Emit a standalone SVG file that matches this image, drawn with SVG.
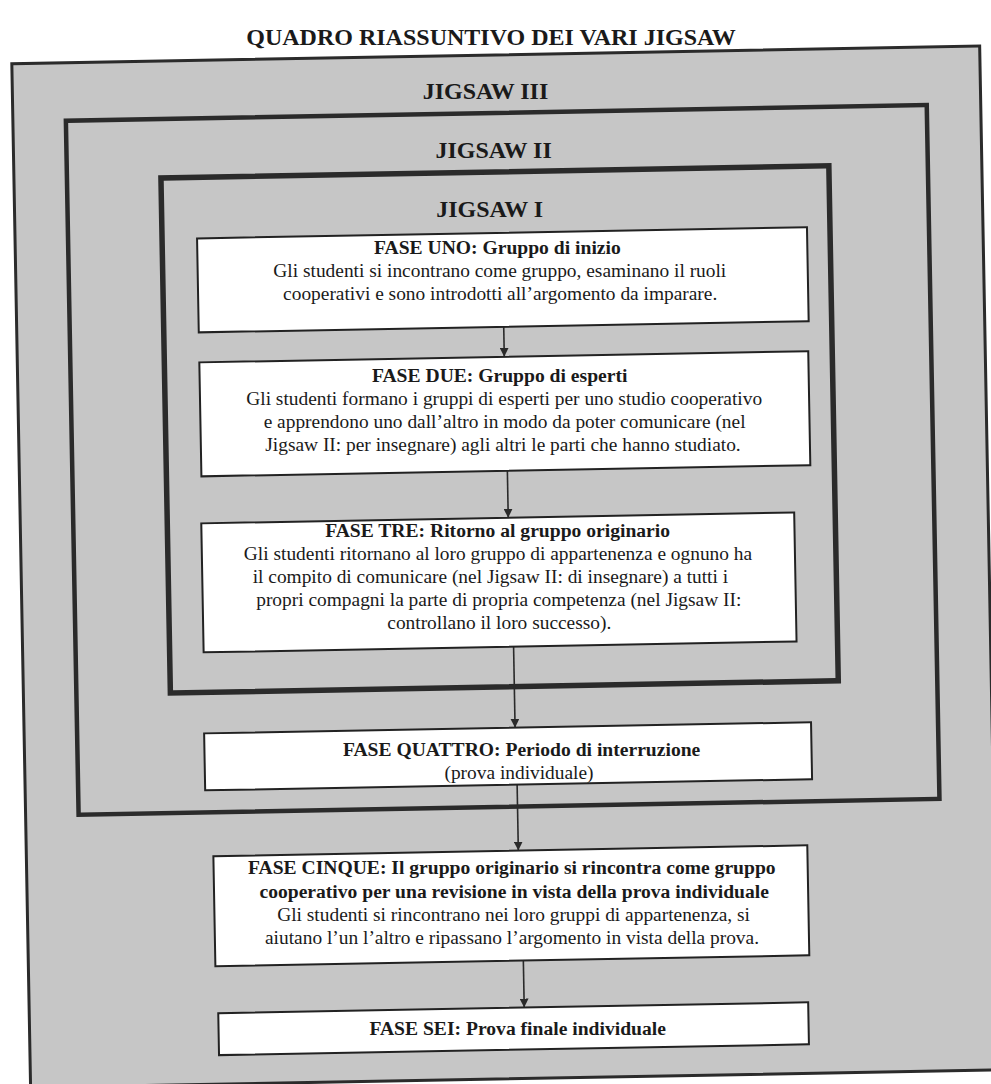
<svg xmlns="http://www.w3.org/2000/svg" width="991" height="1084" viewBox="0 0 991 1084">
<defs>
<marker id="ah" viewBox="0 0 10 10" refX="10" refY="5" markerWidth="9" markerHeight="9" markerUnits="userSpaceOnUse" orient="auto"><path d="M0,0 L10,5 L0,10 z" fill="#2a2a2a"/></marker>
<style>
.frame{fill:#c6c6c6;stroke:#2b2b2b}
.box{fill:#ffffff;stroke:#222222;stroke-width:2}
.t{font-family:"Liberation Serif","Times New Roman",serif;fill:#1a1a1a;text-anchor:middle}
.b{font-weight:bold;font-size:19.6px}
.n{font-size:19.4px}
.h{font-weight:bold;font-size:24px}
.conn{stroke:#2a2a2a;stroke-width:1.6;fill:none}
</style>
</defs>
<rect width="991" height="1084" fill="#ffffff"/>
<text class="t" x="491" y="45" style="font-weight:bold;font-size:24px">QUADRO RIASSUNTIVO DEI VARI JIGSAW</text>
<g id="jigsaw3">
<rect class="frame" x="21" y="55" width="968" height="1024" stroke-width="3" transform="rotate(-1.05 495 560)"/>
<text class="t h" x="485.5" y="99">JIGSAW III</text>
</g>
<g id="jigsaw2">
<rect class="frame" x="74" y="113" width="861" height="694" stroke-width="4.5" transform="rotate(-1.05 495 560)"/>
<text class="t h" x="493.6" y="158">JIGSAW II</text>
</g>
<g id="jigsaw1">
<rect class="frame" x="168" y="172" width="668" height="515" stroke-width="5.5" transform="rotate(-1.05 495 560)"/>
<text class="t h" x="489.7" y="217">JIGSAW I</text>
</g>
<g id="connectors" transform="rotate(-1.05 495 560)">
<line class="conn" x1="508" y1="327" x2="508" y2="357" marker-end="url(#ah)"/>
<line class="conn" x1="509" y1="471" x2="509" y2="518" marker-end="url(#ah)"/>
<line class="conn" x1="512" y1="647" x2="512" y2="728" marker-end="url(#ah)"/>
<line class="conn" x1="513" y1="785" x2="513" y2="851" marker-end="url(#ah)"/>
<line class="conn" x1="516" y1="961" x2="516" y2="1008" marker-end="url(#ah)"/>
</g>
<g id="fase1">
<rect class="box" x="203" y="233" width="610" height="94" transform="rotate(-1.05 495 560)"/>
<text class="t b" x="497.4" y="254">FASE UNO: Gruppo di inizio</text>
<text class="t n" x="499.8" y="277">Gli studenti si incontrano come gruppo, esaminano il ruoli</text>
<text class="t n" x="500.2" y="300">cooperativi e sono introdotti all’argomento da imparare.</text>
</g>
<g id="fase2">
<rect class="box" x="203" y="357" width="609" height="114" transform="rotate(-1.05 495 560)"/>
<text class="t b" x="499.7" y="382">FASE DUE: Gruppo di esperti</text>
<text class="t n" x="504.2" y="405">Gli studenti formano i gruppi di esperti per uno studio cooperativo</text>
<text class="t n" x="504.6" y="428">e apprendono uno dall’altro in modo da poter comunicare (nel</text>
<text class="t n" x="503" y="451">Jigsaw II: per insegnare) agli altri le parti che hanno studiato.</text>
</g>
<g id="fase3">
<rect class="box" x="202" y="518" width="593" height="129" transform="rotate(-1.05 495 560)"/>
<text class="t b" x="497.6" y="537">FASE TRE: Ritorno al gruppo originario</text>
<text class="t n" x="498" y="560">Gli studenti ritornano al loro gruppo di appartenenza e ognuno ha</text>
<text class="t n" x="490.4" y="583">il compito di comunicare (nel Jigsaw II: di insegnare) a tutti i</text>
<text class="t n" x="498.8" y="606">propri compagni la parte di propria competenza (nel Jigsaw II:</text>
<text class="t n" x="499.3" y="629">controllano il loro successo).</text>
</g>
<g id="fase4">
<rect class="box" x="201" y="728" width="607" height="57" transform="rotate(-1.05 495 560)"/>
<text class="t b" x="521.6" y="756">FASE QUATTRO: Periodo di interruzione</text>
<text class="t n" x="519" y="779">(prova individuale)</text>
</g>
<g id="fase5">
<rect class="box" x="208" y="851" width="594" height="110" transform="rotate(-1.05 495 560)"/>
<text class="t b" x="511.8" y="874">FASE CINQUE: Il gruppo originario si rincontra come gruppo</text>
<text class="t b" x="514.2" y="898">cooperativo per una revisione in vista della prova individuale</text>
<text class="t n" x="513.6" y="921">Gli studenti si rincontrano nei loro gruppi di appartenenza, si</text>
<text class="t n" x="512" y="944">aiutano l’un l’altro e ripassano l’argomento in vista della prova.</text>
</g>
<g id="fase6">
<rect class="box" x="210" y="1008" width="590" height="42" transform="rotate(-1.05 495 560)"/>
<text class="t b" x="517.7" y="1035">FASE SEI: Prova finale individuale</text>
</g>
</svg>
